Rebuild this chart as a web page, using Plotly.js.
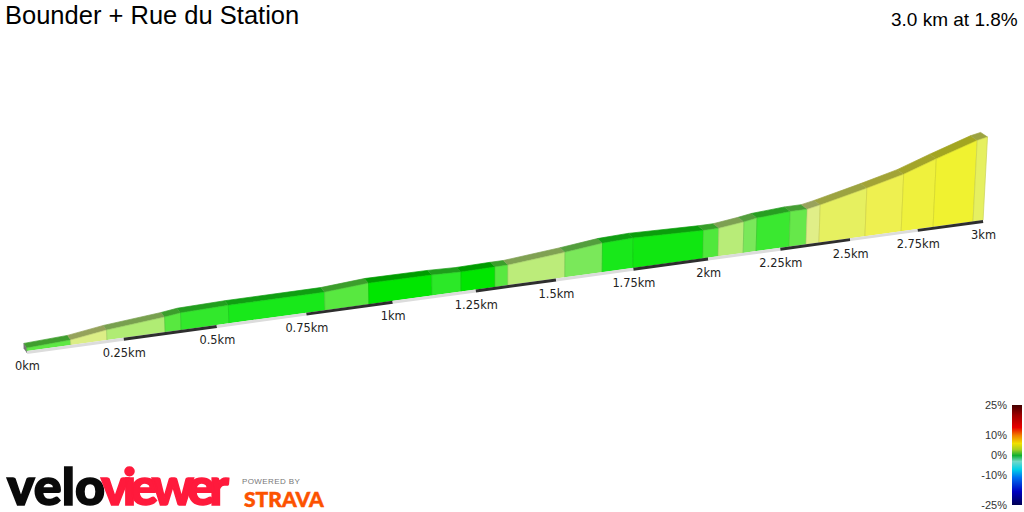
<!DOCTYPE html>
<html><head><meta charset="utf-8">
<script src="https://cdn.plot.ly/plotly-3.0.1.min.js"></script>
<style>html,body{margin:0;padding:0;background:#fff}#c{width:1024px;height:512px}
.annotation[data-index="2"] text{letter-spacing:0px;stroke:#0a0a0a;stroke-width:1.6px}
.annotation[data-index="3"] text{letter-spacing:-6px;stroke:#ff1a3c;stroke-width:1.6px}
.annotation[data-index="4"] text{letter-spacing:0.4px}
.annotation[data-index="5"] text{stroke:#fc5200;stroke-width:0.5px}
</style>
</head><body><div id="c"></div>
<script>
// Section boundaries along the climb (km)
var sectionKm = [0,0.112,0.206,0.36,0.403,0.533,0.803,0.93,1.117,1.205,1.309,1.349,1.528,1.648,1.748,1.982,2.034,2.12,2.165,2.281,2.341,2.387,2.554,2.688,2.808,2.961,3.0];
// Height of the wall at each boundary (elevation in chart units)
var sectionElev = [3,5,10,15,17,18,18,21,20.5,19.5,20,20,25,29,30,28,28,31,33,35,35,37.5,48,57,68,81,83];
// Gradient per section (%)
var sectionGrad = [1.3,3.3,2.4,1.2,0.7,0.3,1.2,0,0.6,0,1.2,2.6,1.7,0.3,0.2,1.1,2.5,1.7,0.8,1.4,3.4,4.0,4.5,4.8,5.0,4.0];
// Km markers
var tickKm = [0,0.25,0.5,0.75,1,1.25,1.5,1.75,2,2.25,2.5,2.75,3];
var tickLabels = ['0km','0.25km','0.5km','0.75km','1km','1.25km','1.5km','1.75km','2km','2.25km','2.5km','2.75km','3km'];
// Legend
var legendTicks = [25,10,0,-10,-25];
var legendLabels = ['25%','10%','0%','-10%','-25%'];
var title = 'Bounder + Rue du Station';
var summary = '3.0 km at 1.8%';

var wallStops = [[0,[0,230,0]],[0.3,[24,232,26]],[0.7,[50,232,44]],[1.2,[88,232,64]],[1.7,[122,232,90]],[2.5,[184,236,120]],[3.4,[224,238,136]],[4.0,[230,240,96]],[4.5,[238,240,80]],[5.0,[240,242,48]]];
function wallColor(g){
  for(var i=1;i<wallStops.length;i++){
    if(g<=wallStops[i][0]){
      var a=wallStops[i-1],b=wallStops[i],t=(g-a[0])/(b[0]-a[0]);
      return a[1].map(function(v,k){return v+(b[1][k]-v)*t;});
    }
  }
  return wallStops[wallStops.length-1][1];
}
function rgb(c,f){return 'rgb('+c.map(function(v){return Math.round(v*f);}).join(',')+')';}
// perspective projection of the ribbon on to the page
function baseX(d){return 27+394.8*d/(1+0.0796*d);}
function baseY(d){return 351-0.137*(baseX(d)-27);}
function topPt(d,h){var bx=baseX(d);return [bx+h*(bx-500)*0.00011,baseY(d)-h];}
function backPt(d,h){var p=topPt(d,h);return [p[0]-3-1.3*d,p[1]-4.6];}

var traces=[];
function poly(pts,fill,line){
  traces.push({type:'scatter',mode:'lines',x:pts.map(function(p){return p[0];}),y:pts.map(function(p){return p[1];}),fill:'toself',fillcolor:fill,line:{color:line,width:0.7},hoverinfo:'skip',showlegend:false});
}
// end cap at the start
poly([[baseX(0),baseY(0)+2],topPt(0,sectionElev[0]),backPt(0,sectionElev[0]),[baseX(0)-3,baseY(0)-2]],'#777','#777');
for(var i=0;i<sectionGrad.length;i++){
  var d0=sectionKm[i],d1=sectionKm[i+1],h0=sectionElev[i],h1=sectionElev[i+1],c=wallColor(sectionGrad[i]);
  poly([backPt(d0,h0),backPt(d1,h1),topPt(d1,h1),topPt(d0,h0)],rgb(c,0.68),rgb(c,0.68));
  poly([[baseX(d0),baseY(d0)],topPt(d0,h0),topPt(d1,h1),[baseX(d1),baseY(d1)]],rgb(c,1),rgb(c,0.88));
}
// alternating km strip
for(var k=0;k<tickKm.length-1;k++){
  traces.push({type:'scatter',mode:'lines',x:[baseX(tickKm[k]),baseX(tickKm[k+1])],y:[baseY(tickKm[k])+1.4,baseY(tickKm[k+1])+1.4],line:{color:k%2?'#2e2e2e':'#dcdcdc',width:3},hoverinfo:'skip',showlegend:false});
}
// km labels
traces.push({type:'scatter',mode:'text',x:tickKm.map(function(d){return baseX(d)+0.5;}),y:tickKm.map(function(d){return baseY(d)+16.5;}),text:tickLabels,textposition:'middle center',textfont:{family:'DejaVu Sans',size:11.4,color:'#222'},hoverinfo:'skip',showlegend:false,cliponaxis:false});
// legend ramp
var ramp=[],rampZ=[];
for(var v=-25;v<=25;v+=0.5){ramp.push(v);rampZ.push([v]);}
traces.push({type:'heatmap',x:[0],y:ramp,z:rampZ,xaxis:'x2',yaxis:'y2',zmin:-25,zmax:25,showscale:false,hoverinfo:'skip',
 colorscale:[[0,'#000050'],[0.14,'#0000c0'],[0.28,'#0070f0'],[0.36,'#00d0e8'],[0.44,'#70d8c8'],[0.5,'#10b030'],[0.56,'#a8d020'],[0.62,'#f0e000'],[0.7,'#f08000'],[0.78,'#e80000'],[0.9,'#a00000'],[1,'#480000']]});

var layout={width:1024,height:512,margin:{l:0,r:0,t:0,b:0},paper_bgcolor:'#fff',plot_bgcolor:'#fff',showlegend:false,
 xaxis:{domain:[0,1],range:[0,1024],visible:false,fixedrange:true},
 yaxis:{domain:[0,1],range:[512,0],visible:false,fixedrange:true},
 xaxis2:{domain:[1012/1024,1022/1024],anchor:'y2',visible:false,fixedrange:true},
 yaxis2:{domain:[7/512,107/512],anchor:'x2',range:[-25,25],tickmode:'array',tickvals:legendTicks,ticktext:legendLabels,ticks:'',showgrid:false,zeroline:false,showline:false,tickfont:{family:'Liberation Sans',size:11,color:'#333'},ticklabelstandoff:4,fixedrange:true},
 annotations:[
  {xref:'paper',yref:'paper',x:3/1024,y:1-14.5/512,xanchor:'left',yanchor:'middle',text:title,showarrow:false,font:{family:'Liberation Sans',size:25.5,color:'#000'}},
  {xref:'paper',yref:'paper',x:1020/1024,y:1-19.5/512,xanchor:'right',yanchor:'middle',text:summary,showarrow:false,font:{family:'Liberation Sans',size:19,color:'#000'}},
  {xref:'paper',yref:'paper',x:5/1024,y:1-485/512,xanchor:'left',yanchor:'middle',text:'velo',showarrow:false,font:{family:'Lato',size:52,weight:900,color:'#0a0a0a'}},
  {xref:'paper',yref:'paper',x:81/1024,y:1-485/512,xanchor:'left',yanchor:'middle',text:'viewer',showarrow:false,font:{family:'Lato',size:52,weight:900,color:'#ff1a3c'}},
  {xref:'paper',yref:'paper',x:242/1024,y:1-481/512,xanchor:'left',yanchor:'middle',text:'POWERED BY',showarrow:false,font:{family:'Liberation Sans',size:8,color:'#777'}},
  {xref:'paper',yref:'paper',x:242/1024,y:1-498/512,xanchor:'left',yanchor:'middle',text:'STRAVA',showarrow:false,font:{family:'Lato',size:21,weight:900,color:'#fc5200'}}
 ]};
Plotly.newPlot('c',traces,layout,{displayModeBar:false,staticPlot:true});
</script></body></html>
